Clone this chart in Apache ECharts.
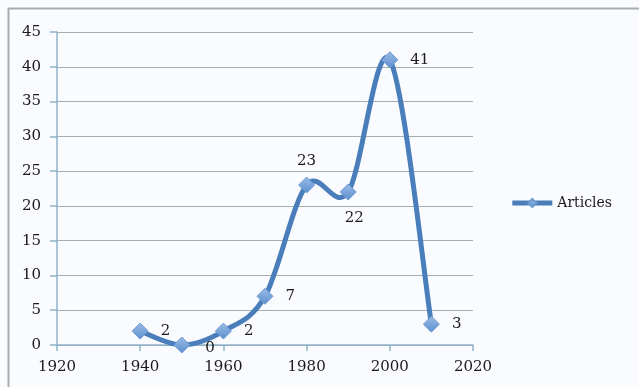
<!DOCTYPE html>
<html>
<head>
<meta charset="utf-8">
<script src="https://cdn.jsdelivr.net/npm/echarts@6/dist/echarts.min.js"></script>
<style>
  html, body { margin: 0; padding: 0; background: #ffffff; }
  #chart { width: 639px; height: 387px; }
</style>
</head>
<body>
<div id="chart"></div>
<script>
// Articles published per decade
const years = [1940, 1950, 1960, 1970, 1980, 1990, 2000, 2010];
const articles = [2, 0, 2, 7, 23, 22, 41, 3];
const labelPlacement = ['right', 'bottomRight', 'right', 'right', 'top', 'bottom', 'right', 'right'];
const seriesName = 'Articles';

const FONT = 'DejaVu Serif';
const FONT_SIZE = 15;
const LINE = '#4a7ebb';

const labelStyles = {
  right: { position: 'right', distance: 12 },
  top: { position: 'top', distance: 8 },
  bottom: { position: 'bottom', distance: 10, offset: [6, 0] },
  bottomRight: { position: 'right', distance: 10, offset: [5, 3] }
};

const points = years.map((y, i) => ({
  value: [y, articles[i]],
  label: labelStyles[labelPlacement[i]]
}));

// Smooth curve through the data: cubic Bezier segments with
// Catmull-Rom style control points, positioned via the chart's axes.
function renderCurveSegment(params, api) {
  const i = params.dataIndex;
  const n = years.length;
  if (i >= n - 1) return null;
  const pt = k => api.coord([years[k], articles[k]]);
  const p0 = pt(Math.max(i - 1, 0));
  const p1 = pt(i);
  const p2 = pt(i + 1);
  const p3 = pt(Math.min(i + 2, n - 1));
  return {
    type: 'bezierCurve',
    shape: {
      x1: p1[0], y1: p1[1],
      x2: p2[0], y2: p2[1],
      cpx1: p1[0] + (p2[0] - p0[0]) / 6,
      cpy1: p1[1] + (p2[1] - p0[1]) / 6,
      cpx2: p2[0] - (p3[0] - p1[0]) / 6,
      cpy2: p2[1] - (p3[1] - p1[1]) / 6
    },
    style: { stroke: LINE, lineWidth: 5, fill: null, lineCap: 'round' }
  };
}

const chart = echarts.init(document.getElementById('chart'), null, { renderer: 'canvas' });
chart.setOption({
  backgroundColor: '#fafbfe',
  animation: false,
  graphic: [{
    type: 'rect',
    shape: { x: 8.5, y: 8.5, width: 640, height: 400 },
    style: { fill: 'none', stroke: '#a8acb0', lineWidth: 2 },
    silent: true
  }],
  grid: { left: 57, right: 166, top: 32, bottom: 42 },
  legend: {
    data: [seriesName],
    right: 22,
    top: 191,
    itemWidth: 40,
    itemHeight: 10,
    itemGap: 4,
    lineStyle: { color: LINE, width: 5, opacity: 1 },
    textStyle: { fontFamily: FONT, fontSize: 14, color: '#1a1a1a' }
  },
  xAxis: {
    type: 'value',
    min: 1920,
    max: 2020,
    interval: 20,
    axisLine: { lineStyle: { color: '#8fb3c6', width: 1.5 } },
    axisTick: { show: true, length: 6, lineStyle: { color: '#8fb3c6', width: 1.5 } },
    axisLabel: { fontFamily: FONT, fontSize: FONT_SIZE, color: '#1a1a1a', margin: 15, formatter: v => String(v) },
    splitLine: { show: false }
  },
  yAxis: {
    type: 'value',
    min: 0,
    max: 45,
    interval: 5,
    axisLine: { show: true, lineStyle: { color: '#8fb3c6', width: 1.5 } },
    axisTick: { show: true, length: 7, lineStyle: { color: '#8fb3c6', width: 1.5 } },
    axisLabel: { fontFamily: FONT, fontSize: FONT_SIZE, color: '#1a1a1a', margin: 16 },
    splitLine: { show: true, lineStyle: { color: '#a6adb1', width: 1.2 } }
  },
  series: [{
    name: 'curve',
    type: 'custom',
    data: years.map((y, i) => [y, articles[i]]),
    encode: { x: 0, y: 1 },
    renderItem: renderCurveSegment,
    silent: true,
    clip: false,
    z: 2
  }, {
    name: seriesName,
    type: 'line',
    data: points,
    symbol: 'diamond',
    symbolSize: 16,
    lineStyle: { color: LINE, width: 5, opacity: 0 },
    itemStyle: {
      color: new echarts.graphic.LinearGradient(0, 0, 0, 1, [
        { offset: 0, color: '#9cbde6' },
        { offset: 1, color: '#5b8fcf' }
      ]),
      borderColor: '#6e9bd2',
      borderWidth: 1
    },
    label: {
      show: true,
      fontFamily: FONT,
      fontSize: FONT_SIZE,
      color: '#1a1a1a',
      formatter: p => p.value[1]
    },
    z: 3
  }]
});
</script>
</body>
</html>
